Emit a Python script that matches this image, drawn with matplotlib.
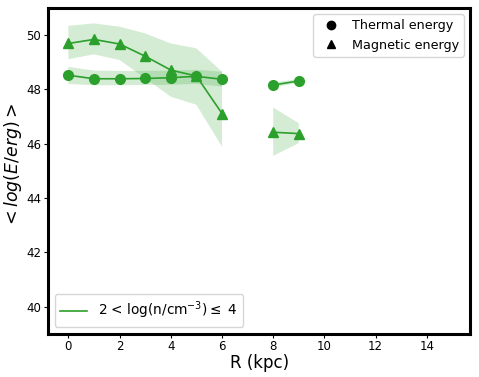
import numpy as np
import matplotlib
matplotlib.use("Agg")
import matplotlib.pyplot as plt
from matplotlib.lines import Line2D

R = [0, 1, 2, 3, 4, 5, 6, 7, 8, 9]
thermal = [48.52, 48.39, 48.39, 48.40, 48.43, 48.48, 48.37, np.nan, 48.16, 48.31]
thermal_hi = [48.83, 48.69, 48.68, 48.68, 48.69, 48.72, 48.65, np.nan, 48.25, 48.38]
thermal_lo = [48.20, 48.15, 48.15, 48.16, 48.17, 48.20, 48.10, np.nan, 48.07, 48.24]
magnetic = [49.69, 49.84, 49.67, 49.22, 48.71, 48.49, 47.11, np.nan, 46.42, 46.37]
magnetic_hi = [50.34, 50.43, 50.31, 50.06, 49.69, 49.51, 48.65, np.nan, 47.33, 46.75]
magnetic_lo = [49.11, 49.29, 49.08, 48.41, 47.73, 47.43, 45.89, np.nan, 45.55, 46.02]

color = "#2ca02c"
fig = plt.figure(figsize=(4.79, 3.77), dpi=100)
ax = fig.add_axes([0.100, 0.115, 0.882, 0.864])

x = np.array(R, dtype=float)
ax.fill_between(x, thermal_lo, thermal_hi, color=color, alpha=0.2, linewidth=0)
ax.fill_between(x, magnetic_lo, magnetic_hi, color=color, alpha=0.2, linewidth=0)
ax.plot(x, thermal, color=color, marker="o", markersize=7, linewidth=1.2)
ax.plot(x, magnetic, color=color, marker="^", markersize=7, linewidth=1.2)

ax.set_xlim(-0.8, 15.7)
ax.set_ylim(39.0, 51.0)
ax.set_xticks([0, 2, 4, 6, 8, 10, 12, 14])
ax.set_yticks([40, 42, 44, 46, 48, 50])
ax.tick_params(labelsize=8.5, length=3, pad=1.8)
for s in ax.spines.values():
    s.set_linewidth(2.2)

ax.set_xlabel("R (kpc)", fontsize=12)
ax.set_ylabel(r"$< log(E/erg) >$", fontsize=12.5)
ax.xaxis.set_label_coords(0.502, -0.063)
ax.yaxis.set_label_coords(-0.057, 0.515)

h1 = [Line2D([], [], color="black", marker="o", linestyle="none", markersize=6),
      Line2D([], [], color="black", marker="^", linestyle="none", markersize=6)]
leg1 = ax.legend(h1, ["Thermal energy", "Magnetic energy"], loc="upper right",
                 fontsize=9.2, handletextpad=0.6)
ax.add_artist(leg1)
h2 = [Line2D([], [], color=color, linewidth=1.2)]
ax.legend(h2, [r"2 < log(n/cm$^{-3}$)$\leq$ 4"], loc="lower left", fontsize=9.8)

fig.savefig("out.png", dpi=100)
